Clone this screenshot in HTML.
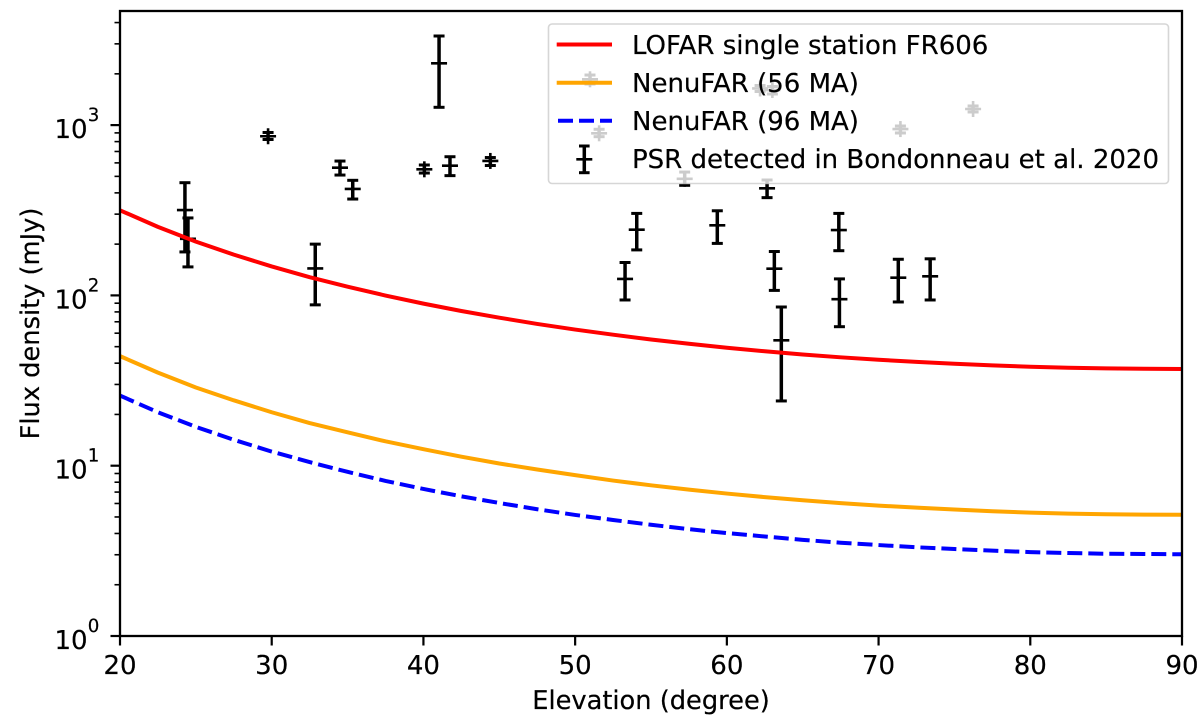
<!DOCTYPE html>
<html>
<head>
<meta charset="utf-8">
<title>Flux density vs elevation</title>
<style>
html,body{margin:0;padding:0;background:#fff;width:1200px;height:723px;overflow:hidden}
svg{display:block;text-rendering:geometricPrecision}
text{font-family:"DejaVu Sans","Liberation Sans",sans-serif;fill:#000;stroke:#000;stroke-width:0.2px}
</style>
</head>
<body>
<svg id="chart" width="1200" height="723" viewBox="0 0 1200 723" xmlns="http://www.w3.org/2000/svg"></svg>
<script>
const elevationGrid = [20,22.5,25,27.5,30,32.5,35,37.5,40,42.5,45,47.5,50,52.5,55,57.5,60,62.5,65,67.5,70,72.5,75,77.5,80,82.5,85,87.5,90];
const lofarFlux = [316,252.6,207,173.5,148,128,112.5,99.8,89.5,81,74,68,63,58.8,55.1,52,49.3,47,45,43.3,41.9,40.7,39.7,38.8,38.1,37.6,37.3,37.1,37];
const nenufar56Flux = [44,35.2,28.8,24.2,20.6,17.8,15.7,13.9,12.5,11.3,10.3,9.5,8.8,8.18,7.67,7.24,6.86,6.54,6.27,6.03,5.83,5.67,5.53,5.4,5.3,5.23,5.19,5.16,5.15];
const nenufar96Flux = [25.8,20.6,16.9,14.2,12.1,10.5,9.2,8.14,7.3,6.61,6.04,5.55,5.14,4.8,4.5,4.24,4.02,3.84,3.67,3.53,3.42,3.32,3.24,3.17,3.11,3.07,3.04,3.03,3.02];

const psrElevation = [24.28,24.48,29.76,34.5,35.34,32.87,41.03,40.06,41.75,44.41,54.06,53.29,59.37,63.13,63.59,67.38,67.42,71.3,73.4,57.22,62.65,50.98,51.58,62.19,63.0,71.44,76.23];
const psrFlux = [317,215,860,562,422,144,2306,550,578,616,243,125,258,143.5,54.5,242,95,127,129.5,484,425.5,1858,895,1641,1607,948,1243];
const psrFluxLow = [180,147,823,509,368,88,1272,523,505,579,185,94,202,107,24,183,65.5,91.5,94,443,375,1743,855,1575,1523,899,1194];
const psrFluxHigh = [459,285,905,615,474,200,3336,583,652,645,303,156,314,181,85.5,303,125,163,164,530,476,1968,945,1708,1685,988,1295];

const xTicks = [20,30,40,50,60,70,80,90];
const yDecades = [0,1,2,3];
const yMinorFactors = [2,3,4,5,6,7,8,9];

const NS = 'http://www.w3.org/2000/svg';
const svg = document.getElementById('chart');
const plot = {left:120, right:1182, top:11, bottom:636};
const xMin = 20, xMax = 90, yLogMin = 0, yLogMax = 3.67;
function xScale(v){ return plot.left + (v - xMin) / (xMax - xMin) * (plot.right - plot.left); }
function yScale(v){ return plot.bottom - (Math.log10(v) - yLogMin) / (yLogMax - yLogMin) * (plot.bottom - plot.top); }
function make(tag, attrs, parent){
  const el = document.createElementNS(NS, tag);
  for (const k in attrs) el.setAttribute(k, attrs[k]);
  (parent || svg).appendChild(el);
  return el;
}
function seg(parent,x1,y1,x2,y2,color,w){
  return make('line',{x1:x1,y1:y1,x2:x2,y2:y2,stroke:color,'stroke-width':w},parent);
}

// error bars with "+" markers
const barsGroup = make('g',{});


psrElevation.forEach(function(el,i){
  const g = make('g',{},barsGroup);
  
  
  const x = xScale(el), y = yScale(psrFlux[i]), lo = yScale(psrFluxLow[i]), hi = yScale(psrFluxHigh[i]);
  seg(g,x,hi,x,lo,'#000',3.5);
  seg(g,x-5.5,hi,x+5.5,hi,'#000',3);
  seg(g,x-5.5,lo,x+5.5,lo,'#000',3);
  seg(g,x-8,y,x+8,y,'#000',2.6);
  seg(g,x,y-8,x,y+8,'#000',2.6);
});

// curves
function drawCurve(values,color,name,dash){
  const pts = values.map(function(v,i){ return xScale(elevationGrid[i]).toFixed(2)+','+yScale(v).toFixed(2); }).join(' ');
  const attrs = {points:pts,fill:'none',stroke:color,'stroke-width':4,'stroke-linejoin':'round'};
  if (dash) attrs['stroke-dasharray'] = dash;
  const line = make('polyline',attrs);
  
  
}
drawCurve(lofarFlux,'#ff0000','lofar-fr606-line');
drawCurve(nenufar56Flux,'#ffa500','nenufar-56ma-line');
drawCurve(nenufar96Flux,'#0000ff','nenufar-96ma-line','15,6');

// legend
const legend = make('g',{});


make('rect',{x:548.5,y:24,width:620,height:159.5,rx:3.5,ry:3.5,fill:'#fff','fill-opacity':0.8,stroke:'#ccc','stroke-opacity':0.8,'stroke-width':1.6},legend);
const e1 = make('g',{},legend);


seg(e1,556.7,44.5,612,44.5,'#ff0000',4);
const t1 = make('text',{x:632,y:54,'font-size':26},e1); t1.textContent='LOFAR single station FR606';
const e2 = make('g',{},legend);


seg(e2,556.7,82.7,612,82.7,'#ffa500',4);
const t2 = make('text',{x:632,y:92.2,'font-size':26},e2); t2.textContent='NenuFAR (56 MA)';
const e3 = make('g',{},legend);


const l3 = seg(e3,558,120.7,612,120.7,'#0000ff',4);
l3.setAttribute('stroke-dasharray','15,6');
const t3 = make('text',{x:632,y:130,'font-size':26},e3); t3.textContent='NenuFAR (96 MA)';
const e4 = make('g',{},legend);


seg(e4,584.3,146,584.3,172.7,'#000',3.5);
seg(e4,579,146,589.6,146,'#000',3);
seg(e4,579,172.7,589.6,172.7,'#000',3);
seg(e4,576.3,159.3,592.3,159.3,'#000',2.6);
const t4 = make('text',{x:632,y:167.8,'font-size':26},e4); t4.textContent='PSR detected in Bondonneau et al. 2020';

// axes frame
const frame = make('rect',{x:plot.left,y:plot.top,width:plot.right-plot.left,height:plot.bottom-plot.top,fill:'none',stroke:'#000','stroke-width':2.3});



// x axis
const xAxis = make('g',{});


xTicks.forEach(function(v){
  const x = xScale(v);
  seg(xAxis,x,plot.bottom,x,plot.bottom+9.5,'#000',2.2);
  const t = make('text',{x:x,y:674,'font-size':26,'text-anchor':'middle'},xAxis);
  
  
  t.textContent = v;
});
const xTitle = make('text',{x:651,y:709,'font-size':25.7,'text-anchor':'middle'});


xTitle.textContent = 'Elevation (degree)';

// y axis
const yAxis = make('g',{});


yDecades.forEach(function(d){
  const y = yScale(Math.pow(10,d));
  seg(yAxis,plot.left-9.5,y,plot.left,y,'#000',2.2);
  const t = make('text',{x:54.5,y:y+13,'font-size':26},yAxis);
  
  
  t.textContent = '10';
  const s = make('text',{x:87.8,y:y-4,'font-size':18.2},yAxis);
  
  
  s.textContent = d;
  yMinorFactors.forEach(function(m){
    const v = m * Math.pow(10,d);
    if (Math.log10(v) <= yLogMax) {
      const my = yScale(v);
      seg(yAxis,plot.left-5.5,my,plot.left,my,'#000',1.6);
    }
  });
});
const yTitle = make('text',{x:0,y:0,'font-size':25.7,'text-anchor':'middle',transform:'translate(39,323.5) rotate(-90)'});


yTitle.textContent = 'Flux density (mJy)';
</script>
</body>
</html>
